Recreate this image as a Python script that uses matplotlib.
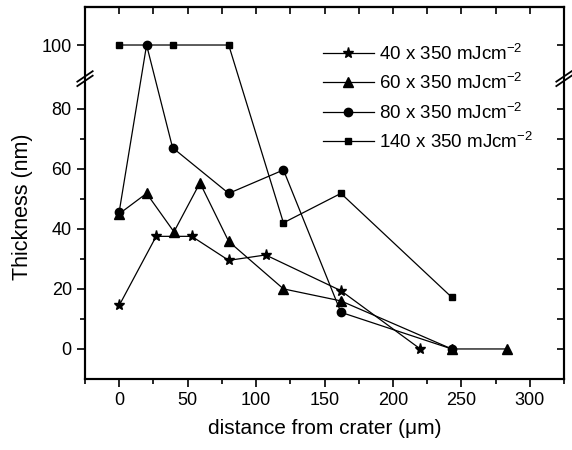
import numpy as np
import matplotlib
matplotlib.use('Agg')
import matplotlib.pyplot as plt
from matplotlib.ticker import FixedLocator, NullFormatter

plt.rcParams['font.family'] = ['Liberation Sans', 'DejaVu Sans']
plt.rcParams['mathtext.fontset'] = 'custom'
plt.rcParams['mathtext.rm'] = 'Liberation Sans'
plt.rcParams['mathtext.it'] = 'Liberation Sans:italic'

# data
x40 = [0, 27, 53, 80, 107, 162, 220]
y40 = [14.5, 37.5, 37.5, 29.5, 31.3, 19.4, 0]
x60 = [0, 20, 40, 59, 80, 120, 162, 243, 283]
y60 = [45, 51.8, 39, 55.3, 35.8, 20, 16, 0, 0]
x80 = [0, 20, 39, 80, 120, 162, 243]
y80 = [45.7, 100, 67, 51.8, 59.6, 12.2, 0]
x140 = [0, 39, 80, 120, 162, 243]
y140 = [100, 100, 100, 42, 51.8, 17.2]
labels = ['40 x 350 mJcm$^{-2}$', '60 x 350 mJcm$^{-2}$',
          '80 x 350 mJcm$^{-2}$', '140 x 350 mJcm$^{-2}$']

# broken axis: above 90 the scale is stretched a bit
K = 1.12
def fwd(y):
    y = np.asarray(y, dtype=float)
    return np.where(y <= 90, y, 90 + (y - 90) * K)
def inv(y):
    y = np.asarray(y, dtype=float)
    return np.where(y <= 90, y, 90 + (y - 90) / K)

fig = plt.figure(figsize=(5.72, 4.5), dpi=100)
ax = fig.add_axes([85/572, 1 - 379/450, 479/572, 372/450])
ax.set_yscale('function', functions=(fwd, inv))

kw = dict(color='black', lw=0.9)
ax.plot(x40, y40, marker='*', ms=8, label=labels[0], **kw)
ax.plot(x60, y60, marker='^', ms=7, label=labels[1], **kw)
ax.plot(x80, y80, marker='o', ms=6, label=labels[2], **kw)
ax.plot(x140, y140, marker='s', ms=5, label=labels[3], **kw)

ax.set_xlim(-25, 325)
ax.set_ylim(-10, 111.3)

ax.set_xticks([0, 50, 100, 150, 200, 250, 300])
ax.xaxis.set_minor_locator(FixedLocator([-25, 25, 75, 125, 175, 225, 275, 325]))
ax.set_yticks([0, 20, 40, 60, 80, 100])
ax.yaxis.set_minor_locator(FixedLocator([10, 30, 50, 70]))
ax.yaxis.set_minor_formatter(NullFormatter())
ax.tick_params(which='major', direction='out', length=6, width=1.2, labelsize=13, colors='black')
ax.tick_params(which='minor', direction='out', length=3.5, width=1.2)
for s in ax.spines.values():
    s.set_linewidth(1.5)

ax.set_xlabel('distance from crater (\u03bcm)', fontsize=15, labelpad=7)
ax.set_ylabel('Thickness (nm)', fontsize=15.5)
ax.yaxis.set_label_coords(-0.108, 0.462)

# right and top ticks pointing inside
axr = ax.twinx()
axr.set_yscale('function', functions=(fwd, inv))
axr.set_ylim(ax.get_ylim())
axr.set_yticks([0, 10, 20, 30, 40, 50, 60, 70, 80, 100])
axr.tick_params(direction='in', length=5, width=1.2, labelright=False)
axt = ax.secondary_xaxis('top')
axt.set_xticks([-25, 0, 25, 50, 75, 100, 125, 150, 175, 200, 225, 250, 275, 300, 325])
axt.tick_params(direction='in', length=5, width=1.2, labeltop=False)
axt.spines['top'].set_linewidth(1.5)
for s in axr.spines.values():
    s.set_linewidth(1.5)

leg = ax.legend(loc='upper left', bbox_to_anchor=(0.497, 0.902), frameon=False, fontsize=13.5,
                handlelength=2.7, handletextpad=0.3, labelspacing=0.5,
                borderpad=0, borderaxespad=0)

# break marks on both spines
fig.canvas.draw()
yb = ax.transAxes.inverted().transform(ax.transData.transform((0, 90)))[1]
for xa in (0.0, 1.0):
    ax.plot([xa, xa], [yb - 0.006, yb + 0.006], transform=ax.transAxes, color='white',
            lw=3, clip_on=False, zorder=5)
    for d in (-0.006, 0.006):
        ax.plot([xa - 0.016, xa + 0.016], [yb + d - 0.014, yb + d + 0.014],
                transform=ax.transAxes, color='black', lw=1.3, clip_on=False, zorder=6)

fig.savefig('out.png', dpi=100)
